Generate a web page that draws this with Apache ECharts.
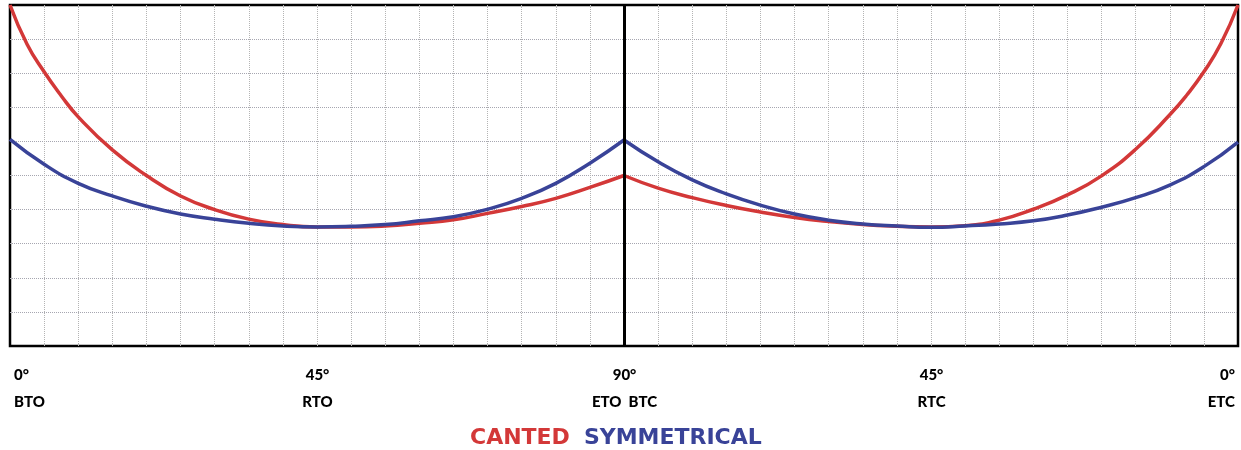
<!DOCTYPE html>
<html><head><meta charset="utf-8">
<script src="https://cdn.jsdelivr.net/npm/echarts@6/dist/echarts.min.js"></script>
<style>html,body{margin:0;padding:0;background:#fff}#c{width:1241px;height:450px}</style>
</head><body><div id="c"></div>
<script>
const anglesOpen = [0,2.5,5,7.5,10,15,20,25,30,35,40,45,50,55,60,65,70,75,80,85,90];
const anglesClose = [90,95,100,105,110,115,120,125,130,135,140,145,150,155,160,165,170,172.5,175,177.5,180];
const cantedOpen = [10,8.85,8.04,7.34,6.72,5.75,5.0,4.4,4.0,3.72,3.56,3.49,3.49,3.52,3.60,3.70,3.89,4.09,4.33,4.65,5.0];
const cantedClose = [5.0,4.63,4.35,4.12,3.93,3.77,3.65,3.56,3.51,3.49,3.53,3.69,4.01,4.43,4.99,5.77,6.78,7.36,8.04,8.87,10];
const symAnglesOpen = [0,5,10,15,20,25,30,35,40,45,50,55,60,65,70,75,80,85,90];
const symAnglesClose = [90,95,100,105,110,115,120,125,130,135,140,145,150,155,160,165,170,175,180];
const symOpen = [6.06,5.33,4.77,4.40,4.10,3.87,3.72,3.60,3.52,3.49,3.51,3.56,3.67,3.79,4.01,4.33,4.77,5.36,6.04];
const symClose = [6.04,5.40,4.87,4.46,4.13,3.87,3.69,3.58,3.52,3.48,3.52,3.58,3.67,3.84,4.07,4.35,4.72,5.26,5.98];
const tickValues = [0,45,90,135,180];
const tickDegrees = ['0°','45°','90°','45°','0°'];
const tickPhases = ['BTO','RTO','ETO  BTC','RTC','ETC'];
const seriesNames = ['CANTED','SYMMETRICAL'];
const colors = ['#d33838','#394398'];

const pairs = (xs, ys) => xs.map((x, i) => [x, ys[i]]);
const lineSeries = (name, color, xs, ys, extra) => Object.assign({
  type: 'line', name: name, data: pairs(xs, ys), smooth: true, showSymbol: false,
  lineStyle: { color: color, width: 3.5 }, itemStyle: { color: color }, silent: true
}, extra || {});

const chart = echarts.init(document.getElementById('c'), null, { renderer: 'canvas' });
chart.setOption({
  animation: false,
  grid: { left: 10, right: 2, top: 5, height: 341, show: true, borderColor: '#000', borderWidth: 2.5, backgroundColor: 'transparent' },
  xAxis: {
    type: 'value', min: 0, max: 180, interval: 5,
    axisLine: { show: false }, axisTick: { show: false },
    splitLine: { show: true, showMinLine: false, showMaxLine: false, lineStyle: { color: '#b4b4b4', width: 1, type: [1, 1] } },
    axisLabel: {
      formatter: function (v) { const i = tickValues.indexOf(v); return i < 0 ? '' : tickDegrees[i] + '\n' + tickPhases[i]; },
      alignMinLabel: 'left', alignMaxLabel: 'right',
      fontFamily: 'Lato', fontWeight: 900, fontSize: 15, color: '#000', lineHeight: 27, margin: 16,
      padding: [0, 3, 0, 4]
    }
  },
  yAxis: {
    type: 'value', min: 0, max: 10, interval: 1,
    axisLine: { show: false }, axisTick: { show: false }, axisLabel: { show: false },
    splitLine: { show: true, showMinLine: false, showMaxLine: false, lineStyle: { color: '#a6a6b0', width: 1, type: [1, 1] } }
  },
  legend: {
    top: 421, left: 460, icon: 'none', itemWidth: 0, itemHeight: 24, itemGap: 9,
    selectedMode: false,
    textStyle: { fontFamily: 'DejaVu Sans', fontWeight: 'bold', fontSize: 22 },
    data: [
      { name: seriesNames[0], textStyle: { color: colors[0] } },
      { name: seriesNames[1], textStyle: { color: colors[1] } }
    ]
  },
  series: [
    lineSeries(seriesNames[0], colors[0], anglesOpen, cantedOpen),
    lineSeries(seriesNames[0], colors[0], anglesClose, cantedClose),
    lineSeries(seriesNames[1], colors[1], symAnglesOpen, symOpen),
    lineSeries(seriesNames[1], colors[1], symAnglesClose, symClose, {
      markLine: {
        silent: true, symbol: 'none', label: { show: false },
        lineStyle: { color: '#000', width: 3, type: 'solid' },
        data: [{ xAxis: tickValues[2] }]
      }
    })
  ]
});
</script></body></html>
